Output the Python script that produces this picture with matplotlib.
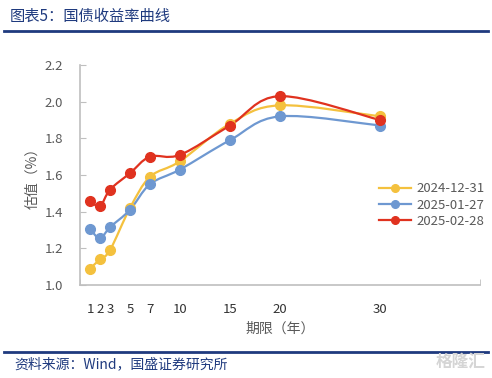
import matplotlib
matplotlib.use('Agg')
import matplotlib.pyplot as plt
import numpy as np
from matplotlib.path import Path
from matplotlib.patches import PathPatch
from matplotlib.lines import Line2D

plt.rcParams['font.family'] = ['Noto Sans CJK SC', 'DejaVu Sans']

# tenor (years)
tenors = [1, 2, 3, 5, 7, 10, 15, 20, 30]
tenor_labels = ['1', '2', '3', '5', '7', '10', '15', '20', '30']

# yield estimates (%)
y_20241231 = [1.09, 1.14, 1.19, 1.42, 1.59, 1.675, 1.88, 1.98, 1.92]
y_20250127 = [1.305, 1.255, 1.315, 1.41, 1.55, 1.63, 1.79, 1.92, 1.87]
y_20250228 = [1.46, 1.43, 1.52, 1.61, 1.70, 1.71, 1.87, 2.03, 1.90]

series = [
    ('2024-12-31', y_20241231, '#F4C13E'),
    ('2025-01-27', y_20250127, '#6E98D1'),
    ('2025-02-28', y_20250228, '#E0321F'),
]

navy = '#1F3A7E'
grey_txt = '#595959'
spine_c = '#BFBFBF'


def smooth_path(xs, ys):
    # excel-like smoothed line as cubic bezier segments through the points
    p = np.column_stack([xs, ys]).astype(float)
    n = len(p)
    verts = [p[0]]
    codes = [Path.MOVETO]
    for i in range(n - 1):
        p0 = p[i - 1] if i > 0 else p[i]
        p3 = p[i + 2] if i + 2 < n else p[i + 1]
        c1 = p[i] + (p[i + 1] - p0) / 6
        c2 = p[i + 1] - (p3 - p[i]) / 6
        verts += [c1, c2, p[i + 1]]
        codes += [Path.CURVE4] * 3
    return Path(verts, codes)


fig = plt.figure(figsize=(4.92, 3.78), dpi=100)
ax = fig.add_axes([80 / 492, 1 - 285 / 378, 400 / 492, 220 / 378])

for name, vals, col in series:
    ax.add_patch(PathPatch(smooth_path(tenors, vals), facecolor='none',
                           edgecolor=col, lw=1.6, zorder=3))
    ax.plot(tenors, vals, 'o', color=col, ms=7, zorder=4)

ax.set_xlim(0, 40)
ax.set_ylim(1.0, 2.2)
ax.set_yticks(np.arange(1.0, 2.21, 0.2))
ax.set_yticklabels(['%.1f' % v for v in np.arange(1.0, 2.21, 0.2)])
ax.set_xticks(tenors)
ax.set_xticklabels(tenor_labels)
ax.set_xticks([0, 10, 20, 30, 40], minor=True)
ax.tick_params(axis='x', which='major', length=0, pad=13, labelsize=9.5, colors='#333333')
ax.tick_params(axis='x', which='minor', direction='in', length=4, color=spine_c)
ax.tick_params(axis='y', direction='in', length=4, color=spine_c, pad=12,
               labelsize=9.5, labelcolor=grey_txt)
for s in ['top', 'right']:
    ax.spines[s].set_visible(False)
for s in ['left', 'bottom']:
    ax.spines[s].set_color(spine_c)
    ax.spines[s].set_linewidth(1.2)

ax.set_xlabel('期限（年）', fontsize=10, color=grey_txt, labelpad=4)
ax.set_ylabel('估值（%）', fontsize=10, color=grey_txt, labelpad=4)

handles = [Line2D([], [], color=c, lw=1.6, marker='o', ms=5.5) for _, _, c in series]
fig.legend(handles, [s[0] for s in series], loc='upper left',
           bbox_to_anchor=(370 / 492, 1 - 173 / 378), frameon=False,
           fontsize=9.5, labelcolor=grey_txt, handlelength=2.4,
           handletextpad=0.4, labelspacing=0.25, borderpad=0.2)

# header / footer
fig.text(10 / 492, 1 - 16 / 378, '图表5：国债收益率曲线', fontsize=11,
         color=navy, va='center', ha='left')
fig.add_artist(Line2D([4 / 492, 488 / 492], [1 - 31 / 378] * 2, color=navy, lw=2))
fig.add_artist(Line2D([4 / 492, 488 / 492], [1 - 352 / 378] * 2, color=navy, lw=2))
fig.text(14 / 492, 1 - 364 / 378, '资料来源：Wind，国盛证券研究所', fontsize=10,
         color=navy, va='center', ha='left')
fig.text(486 / 492, 1 - 362 / 378, '格隆汇', fontsize=12, color='#D5D5D5',
         va='center', ha='right', fontweight='bold')

fig.savefig('out.png', dpi=100)
